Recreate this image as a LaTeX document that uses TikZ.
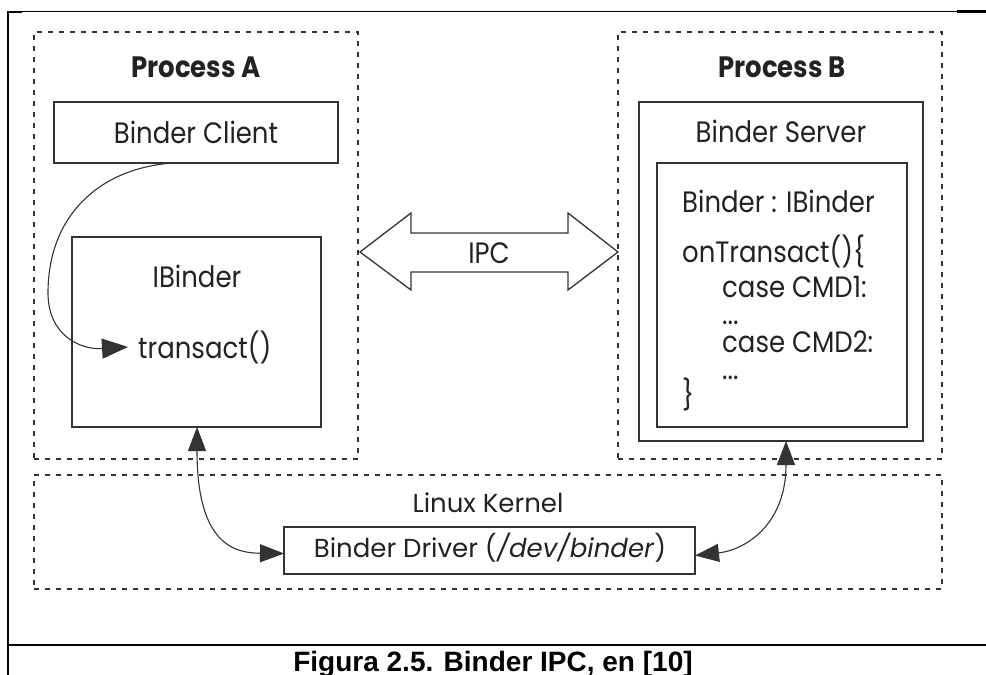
\documentclass[tikz,border=0pt]{standalone}
\usepackage{fontspec}
\setmainfont{Poppins}
\newfontfamily\tallfont[FakeStretch=0.88]{Poppins}
\newfontfamily\capfont{Liberation Sans}
\usetikzlibrary{arrows.meta,calc}
\definecolor{ln}{HTML}{333333}
\definecolor{tx}{HTML}{222222}
\tikzset{
  box/.style={draw=ln, line width=1.3pt, outer sep=0pt, inner sep=0pt, anchor=north west},
  dbox/.style={draw=ln, line width=1.4pt, dash pattern=on 5pt off 6pt, outer sep=0pt, inner sep=0pt, anchor=north west},
  txt/.style={font=\tallfont\fontsize{29.5}{32}\selectfont, text=tx, inner sep=0pt},
  ktxt/.style={font=\fontsize{26}{30}\selectfont, text=tx, inner sep=0pt},
  ttl/.style={font=\tallfont\fontsize{29.5}{32}\selectfont\bfseries, text=tx, inner sep=0pt, anchor=base},
  arr/.style={draw=ln, line width=1.1pt, -{Triangle[length=26pt,width=20pt]}},
  darr/.style={draw=ln, line width=1.1pt, {Triangle[length=24pt,width=18pt]}-{Triangle[length=24pt,width=18pt]}},
}
\begin{document}
\begin{tikzpicture}[x=1pt,y=-1pt]
\useasboundingbox (0,0) rectangle (986,675);
% frame
\draw[line width=2pt] (8,11) -- (8,675);
\draw[line width=1pt] (8,11) -- (957,11);
\draw[line width=2pt] (7,11.5) -- (22,11.5);
\draw[line width=2.2pt] (957,11.5) -- (986,11.5);
\draw[line width=2pt] (8,645) -- (986,645);
% process A
\node[dbox, minimum width=324pt, minimum height=427pt] (pa) at (34,32) {};
\node[ttl] (pat) at (196,77) {Process A};
\node[box, minimum width=284pt, minimum height=61pt] (bc) at (54,102) {};
\node[txt, anchor=base] (bct) at (196,143) {Binder Client};
\node[box, minimum width=249pt, minimum height=190pt] (ib) at (72,237) {};
\node[txt, anchor=base] (ibt) at (197,287) {IBinder};
\node[txt, anchor=base west] (tr) at (138,358) {transact()};
% process B
\node[dbox, minimum width=324pt, minimum height=427pt] (pb) at (618,32) {};
\node[ttl] (pbt) at (782,77) {Process B};
\node[box, minimum width=284pt, minimum height=339pt] (bs) at (639,102) {};
\node[txt, anchor=base] (bst) at (781,142) {Binder Server};
\node[box, minimum width=250pt, minimum height=264pt] (ibs) at (657,163) {};
\node[txt, anchor=base west] (l1) at (682,212) {Binder : IBinder};
\node[txt, anchor=base west] (l2) at (682,262) {onTransact()\{};
\node[txt, anchor=base west] (l3) at (722,297) {case CMD1:};
\node[txt, anchor=base west] (l4) at (722,324) {...};
\node[txt, anchor=base west] (l5) at (722,352) {case CMD2:};
\node[txt, anchor=base west] (l6) at (722,379) {...};
\node[txt, anchor=base west] (l7) at (682,405) {\}};
% IPC
\draw[draw=ln, line width=1.3pt] (360,252) -- (411,213) -- (411,233) -- (568,233) -- (568,213) -- (618,252)
  -- (568,290) -- (568,272) -- (411,272) -- (411,290) -- cycle;
\node[txt, anchor=base] (ipc) at (489,263) {IPC};
% kernel
\node[dbox, minimum width=908pt, minimum height=114pt] (lk) at (34,475) {};
\node[ktxt, anchor=base] (lkt) at (488,512) {Linux Kernel};
\node[box, minimum width=411pt, minimum height=47pt] (drv) at (284,527) {};
\node[ktxt, anchor=base] (drvt) at (490,557) {Binder Driver (\textit{/dev/binder})};
% arrows
\draw[arr] ([xshift=119pt]bc.south west) .. controls (100,168) and (48,215) .. (48,293)
  .. controls (48,335) and (80,350) .. ([xshift=-10pt]tr.west);
\draw[darr] ([xshift=125pt]ib.south west) .. controls (197,545) and (235,553) .. ([yshift=-3pt]drv.west);
\draw[darr] ([xshift=147pt]bs.south west) .. controls (786,525) and (745,550) .. ([yshift=-5pt]drv.east);
% caption
\node[font=\capfont\bfseries\fontsize{28}{30}\selectfont, anchor=base, inner sep=0pt] (cap) at (493,671) {Figura 2.5. Binder IPC, en [10]};
\end{tikzpicture}
\end{document}
